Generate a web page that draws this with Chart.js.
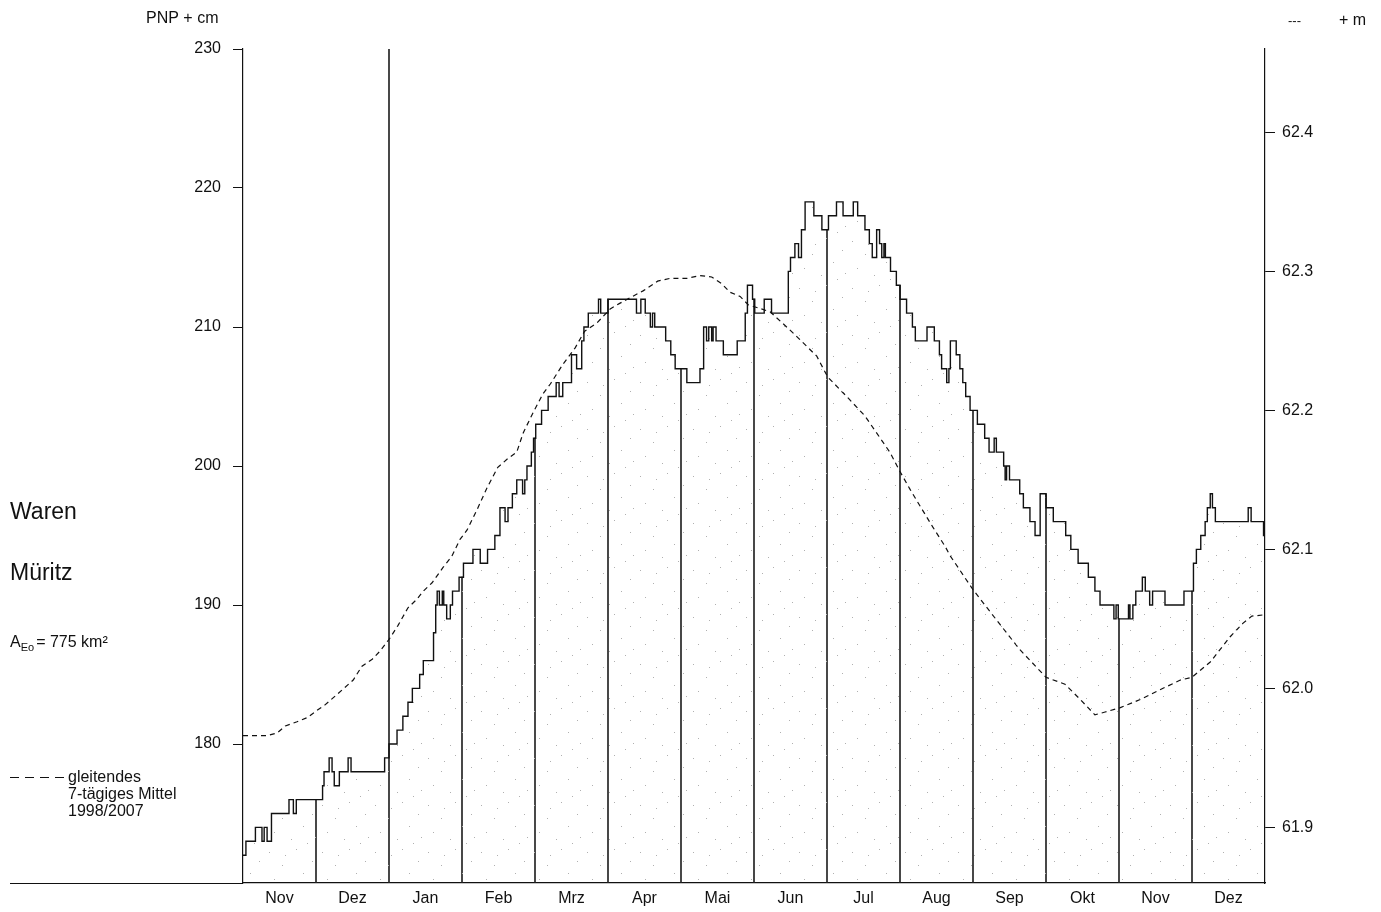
<!DOCTYPE html>
<html>
<head>
<meta charset="utf-8">
<script src="https://cdn.jsdelivr.net/npm/chart.js"></script>
<style>
  html, body { margin: 0; padding: 0; background: #fff; }
  #wrap { width: 1381px; height: 912px; position: relative; }
</style>
</head>
<body>
<div id="wrap"><canvas id="pegel"></canvas></div>
<script>
// x = month index from start of Nov (0) to end of Dez next year (14)
const monthNames = ["Nov", "Dez", "Jan", "Feb", "Mrz", "Apr", "Mai", "Jun", "Jul", "Aug", "Sep", "Okt", "Nov", "Dez"];

// daily water level, PNP + cm, as step changes (month position, level from there on)
const stepMonth = [0, 0.04, 0.17, 0.26, 0.29, 0.33, 0.39, 0.63, 0.69, 0.73,
  1.09, 1.11, 1.18, 1.22, 1.25, 1.32, 1.44, 1.48, 1.94,
  2.00, 2.11, 2.19, 2.26, 2.32, 2.42, 2.47, 2.61, 2.64, 2.66, 2.69, 2.73, 2.75, 2.79, 2.84, 2.87, 2.96,
  3.02, 3.15, 3.25, 3.35, 3.45, 3.52, 3.59, 3.63, 3.69, 3.75, 3.83, 3.86, 3.89, 3.95, 3.98,
  4.01, 4.09, 4.18, 4.29, 4.33, 4.38, 4.50, 4.57, 4.64, 4.67, 4.73, 4.87, 4.90,
  5.00, 5.39, 5.45, 5.51, 5.58, 5.61, 5.64, 5.79, 5.86, 5.92,
  6.08, 6.26, 6.31, 6.35, 6.38, 6.42, 6.44, 6.48, 6.58, 6.77, 6.88, 6.91, 6.98,
  7.01, 7.14, 7.24, 7.47, 7.50, 7.56, 7.61, 7.65, 7.70, 7.82, 7.93,
  8.02, 8.13, 8.22, 8.36, 8.42, 8.52, 8.58, 8.62, 8.68, 8.72, 8.75, 8.78, 8.80, 8.87, 8.95,
  9.00, 9.09, 9.17, 9.21, 9.37, 9.47, 9.54, 9.57, 9.64, 9.67, 9.69, 9.77, 9.82, 9.86, 9.90, 9.96,
  10.06, 10.16, 10.22, 10.29, 10.32, 10.42, 10.44, 10.46, 10.50, 10.64, 10.69, 10.78, 10.85, 10.92,
  11.00, 11.10, 11.27, 11.34, 11.44, 11.58, 11.67, 11.74, 11.93, 11.96, 11.99,
  12.13, 12.15, 12.19, 12.23, 12.32, 12.36, 12.42, 12.46, 12.63, 12.89,
  13.02, 13.06, 13.12, 13.18, 13.21, 13.25, 13.28, 13.32, 13.77, 13.81, 13.98, 14.00];
const stepLevel = [172, 173, 174, 173, 174, 173, 175, 176, 175, 176,
  177, 178, 179, 178, 177, 178, 179, 178, 179,
  180, 181, 182, 183, 184, 185, 186, 188, 190, 191, 190, 191, 190, 189, 190, 191, 192,
  193, 194, 193, 194, 195, 197, 196, 197, 198, 199, 198, 199, 200, 201, 202,
  203, 204, 205, 206, 205, 206, 208, 207, 209, 210, 211, 212, 211,
  212, 211, 212, 211, 210, 211, 210, 209, 208, 207,
  206, 207, 210, 209, 210, 209, 210, 209, 208, 209, 211, 213, 212,
  211, 212, 211, 214, 215, 216, 215, 217, 219, 218, 217,
  218, 219, 218, 219, 218, 217, 216, 215, 217, 216, 215, 216, 215, 214, 213,
  212, 211, 210, 209, 210, 209, 208, 207, 206, 207, 209, 208, 207, 206, 205, 204,
  203, 202, 201, 202, 201, 200, 199, 200, 199, 198, 197, 196, 195, 198,
  197, 196, 195, 194, 193, 192, 191, 190, 189, 190, 189,
  190, 189, 190, 191, 192, 191, 190, 191, 190, 191,
  193, 194, 195, 196, 197, 198, 197, 196, 197, 196, 195, 195];

// moving 7-day mean 1998/2007, in m (right axis)
const avgMonth = [0, 0.33, 0.47, 0.58, 0.74, 0.88, 1.01, 1.12, 1.23, 1.36, 1.51, 1.63, 1.77, 1.88,
  2.01, 2.12, 2.26, 2.38, 2.47, 2.59, 2.74, 2.86, 2.97, 3.07, 3.21, 3.34, 3.49, 3.62, 3.75, 3.84, 3.97,
  4.11, 4.21, 4.38, 4.55, 4.68, 4.85, 5.03, 5.16, 5.30, 5.48, 5.68, 5.85, 6.08, 6.26, 6.42, 6.56, 6.67,
  6.81, 6.92, 7.22, 7.53, 7.86, 8.01, 8.27, 8.52, 8.86, 9.00, 9.14, 9.30, 9.45, 9.62, 9.68, 10.00,
  10.37, 10.64, 11.00, 11.26, 11.47, 11.67, 11.81, 12.01, 12.29, 12.56, 12.84, 13.00, 13.25, 13.52,
  13.70, 13.82, 14.00];
const avgLevel = [61.966, 61.966, 61.968, 61.973, 61.976, 61.979, 61.984, 61.988, 61.993, 61.999, 62.006, 62.016, 62.021, 62.027,
  62.036, 62.045, 62.058, 62.064, 62.070, 62.076, 62.087, 62.095, 62.107, 62.114, 62.129, 62.144, 62.159, 62.165, 62.170, 62.184, 62.198,
  62.212, 62.219, 62.233, 62.245, 62.257, 62.263, 62.273, 62.277, 62.281, 62.286, 62.293, 62.295, 62.295, 62.297, 62.296, 62.291, 62.285,
  62.282, 62.276, 62.271, 62.256, 62.239, 62.224, 62.210, 62.196, 62.170, 62.156, 62.143, 62.129, 62.116, 62.102, 62.096, 62.071,
  62.046, 62.028, 62.008, 62.003, 61.992, 61.981, 61.983, 61.986, 61.992, 61.999, 62.006, 62.008, 62.019, 62.037,
  62.047, 62.052, 62.053];

const leftTicks = [180, 190, 200, 210, 220, 230];
const rightTicks = [61.9, 62.0, 62.1, 62.2, 62.3, 62.4];
const yearLine = 2;   // Jan: full-height divider

const FONT = "'Liberation Sans Narrow', 'Liberation Sans', Arial, sans-serif";
const INK = '#111';

function levelAt(m) {
  let v = stepLevel[0];
  let before = stepLevel[0];
  for (let i = 0; i < stepMonth.length; i++) {
    if (stepMonth[i] <= m + 1e-9) v = stepLevel[i];
    if (stepMonth[i] < m - 1e-9) before = stepLevel[i];
  }
  return Math.max(v, before);
}

const stepPoints = stepMonth.map((m, i) => ({ x: m, y: stepLevel[i] }));
const avgPoints = avgMonth.map((m, i) => ({ x: m, y: avgLevel[i] }));
const dividers = [];
for (let m = 1; m < monthNames.length; m++) {
  dividers.push({ x: m, y: m === yearLine ? 230 : levelAt(m) });
}

// sparse stipple for the area under the level curve
function stipple() {
  const c = document.createElement('canvas');
  c.width = 53; c.height = 47;
  const g = c.getContext('2d');
  g.fillStyle = '#b0b0b0';
  [[4, 6], [31, 3], [47, 15], [17, 19], [38, 27], [9, 33], [26, 40], [50, 38], [20, 9], [42, 44]]
    .forEach(p => g.fillRect(p[0], p[1], 1, 1));
  return g.createPattern(c, 'repeat');
}

const sideText = {
  id: 'sideText',
  afterDraw(chart) {
    const ctx = chart.ctx;
    const area = chart.chartArea;
    ctx.save();
    ctx.fillStyle = INK;
    ctx.strokeStyle = INK;

    // baseline runs out to the left edge
    ctx.lineWidth = 1.2;
    ctx.beginPath();
    ctx.moveTo(10, area.bottom + 0.5);
    ctx.lineTo(area.left, area.bottom + 0.5);
    ctx.stroke();

    ctx.textBaseline = 'middle';
    ctx.font = '16px ' + FONT;
    ctx.fillText('PNP + cm', 146, 19);
    ctx.font = '13px ' + FONT;
    ctx.fillText('---', 1288, 21);
    ctx.font = '16px ' + FONT;
    ctx.fillText('+ m', 1339, 21);

    ctx.textBaseline = 'alphabetic';
    ctx.font = "23px 'Liberation Sans', Arial, sans-serif";
    ctx.fillText('Waren', 10, 519);
    ctx.fillText('Müritz', 10, 580);

    ctx.font = '16px ' + FONT;
    let x = 10;
    ctx.fillText('A', x, 647);
    x += ctx.measureText('A').width;
    ctx.font = '11px ' + FONT;
    ctx.fillText('Eo', x, 651);
    x += ctx.measureText('Eo').width + 2;
    ctx.font = '16px ' + FONT;
    ctx.fillText('= 775 km²', x, 647);

    // legend for the dashed mean
    ctx.lineWidth = 1.2;
    ctx.setLineDash([9, 6]);
    ctx.beginPath();
    ctx.moveTo(10, 777.5);
    ctx.lineTo(64, 777.5);
    ctx.stroke();
    ctx.setLineDash([]);
    ctx.textBaseline = 'middle';
    ctx.fillText('gleitendes', 68, 778);
    ctx.fillText('7-tägiges Mittel', 68, 795);
    ctx.fillText('1998/2007', 68, 812);
    ctx.restore();
  }
};

new Chart(document.getElementById('pegel'), {
  type: 'line',
  data: {
    datasets: [
      {
        label: 'Wasserstand',
        data: stepPoints,
        stepped: true,
        borderColor: INK,
        borderWidth: 1.4,
        pointRadius: 0,
        fill: 'start',
        backgroundColor: stipple(),
        yAxisID: 'y',
        order: 0
      },
      {
        label: 'gleitendes 7-tägiges Mittel 1998/2007',
        data: avgPoints,
        borderColor: INK,
        borderWidth: 1.2,
        borderDash: [5, 4],
        pointRadius: 0,
        tension: 0,
        fill: false,
        yAxisID: 'y2',
        order: 0
      },
      {
        type: 'bar',
        label: 'Monatsgrenzen',
        data: dividers,
        backgroundColor: '#222',
        barThickness: 1,
        yAxisID: 'y',
        order: 1
      }
    ]
  },
  options: {
    responsive: true,
    maintainAspectRatio: false,
    animation: false,
    layout: { padding: { top: 49, left: 0, right: 0, bottom: 0 } },
    plugins: { legend: { display: false }, tooltip: { enabled: false } },
    scales: {
      x: {
        type: 'linear',
        min: 0,
        max: 14,
        offset: false,
        afterBuildTicks: s => { s.ticks = monthNames.map((_, i) => ({ value: i + 0.5 })); },
        afterFit: s => { s.height = 29; },
        ticks: {
          autoSkip: false,
          maxRotation: 0,
          padding: 6,
          color: INK,
          font: { family: FONT, size: 16 },
          callback: (v, i) => monthNames[i]
        },
        grid: { display: false, drawTicks: false },
        border: { display: true, color: INK, width: 1.2 }
      },
      y: {
        position: 'left',
        min: 170,
        max: 230,
        afterBuildTicks: s => { s.ticks = leftTicks.map(v => ({ value: v })); },
        afterFit: s => { s.width = 243; },
        ticks: {
          padding: 12,
          color: INK,
          font: { family: FONT, size: 16 }
        },
        grid: { drawOnChartArea: false, drawTicks: true, tickLength: 10, color: INK, lineWidth: 1 },
        border: { display: true, color: INK, width: 1.2 }
      },
      y2: {
        position: 'right',
        min: 61.86,
        max: 62.46,
        afterBuildTicks: s => { s.ticks = rightTicks.map(v => ({ value: v })); },
        afterFit: s => { s.width = 116; },
        ticks: {
          padding: 7,
          color: INK,
          font: { family: FONT, size: 16 },
          callback: v => v.toFixed(1)
        },
        grid: { drawOnChartArea: false, drawTicks: true, tickLength: 10, color: INK, lineWidth: 1 },
        border: { display: true, color: INK, width: 1.2 }
      }
    }
  },
  plugins: [sideText]
});
</script>
</body>
</html>
